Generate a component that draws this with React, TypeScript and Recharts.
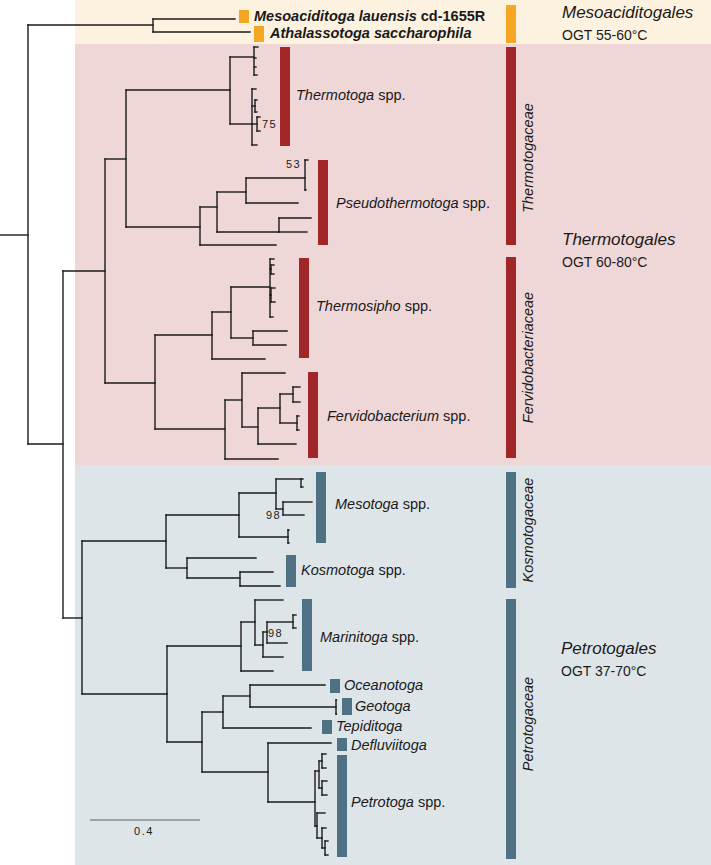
import { ScatterChart, Scatter, XAxis, YAxis, ReferenceArea, ReferenceLine } from "recharts";

// tree: [id, parent, depth (scale units), row]
const NODES: [string, string, number, number][] = [
  ["root", "", 0, 235],
  ["n0", "root", 28, 235],
  ["meso", "n0", 153, 25],
  ["", "meso", 235, 19],
  ["", "meso", 250, 32],
  ["core", "n0", 63, 444],
  ["tgl", "core", 105, 271],
  ["tA", "tgl", 126, 159],
  ["tT", "tA", 230, 90],
  ["tT1", "tT", 254, 57],
  ["", "tT1", 258, 47],
  ["", "tT1", 256, 58],
  ["", "tT1", 256, 67],
  ["", "tT1", 257, 75],
  ["tT2", "tT", 252, 124],
  ["", "tT2", 256, 89],
  ["tT3", "tT2", 255, 106],
  ["", "tT3", 257, 100],
  ["", "tT3", 257, 112],
  ["tT4", "tT2", 257, 124],
  ["", "tT4", 260, 117],
  ["", "tT4", 260, 131],
  ["", "tT2", 257, 145],
  ["pA", "tA", 200, 227],
  ["pB", "pA", 217, 207],
  ["pC", "pB", 246, 192],
  ["pD", "pC", 305, 178],
  ["", "pD", 308, 160],
  ["", "pD", 306, 190],
  ["", "pC", 298, 203],
  ["pE", "pB", 279, 232],
  ["", "pE", 311, 218],
  ["", "pE", 307, 232],
  ["", "pA", 276, 245],
  ["fA", "tgl", 155, 383],
  ["fS", "fA", 212, 335],
  ["fS1", "fS", 231, 312],
  ["fS2", "fS1", 270, 287],
  ["", "fS2", 274, 259],
  ["fS2a", "fS2", 271, 269],
  ["", "fS2a", 274, 265],
  ["", "fS2a", 274, 274],
  ["fS2b", "fS2", 271, 295],
  ["", "fS2b", 275, 288],
  ["", "fS2b", 275, 302],
  ["", "fS2", 273, 317],
  ["fS3", "fS1", 253, 338],
  ["", "fS3", 287, 331],
  ["", "fS3", 286, 345],
  ["", "fS", 265, 359],
  ["fF", "fA", 225, 429],
  ["fF1", "fF", 242, 400],
  ["", "fF1", 285, 373],
  ["fF2", "fF1", 258, 427],
  ["fF3", "fF2", 280, 408],
  ["fF4", "fF3", 293, 394],
  ["", "fF4", 300, 387],
  ["", "fF4", 300, 402],
  ["fF5", "fF3", 297, 423],
  ["", "fF5", 299, 416],
  ["", "fF5", 299, 430],
  ["", "fF2", 296, 444],
  ["", "fF", 278, 459],
  ["ptg", "core", 82, 618],
  ["kA", "ptg", 166, 541],
  ["kM", "kA", 239, 515],
  ["kM1", "kM", 276, 493],
  ["kM1a", "kM1", 301, 479],
  ["", "kM1a", 303, 479],
  ["", "kM1a", 303, 487],
  ["kM2", "kM1", 283, 509],
  ["", "kM2", 312, 502],
  ["", "kM2", 304, 515],
  ["kM3", "kM", 288, 537],
  ["", "kM3", 289, 530],
  ["", "kM3", 289, 543],
  ["kK", "kA", 187, 568],
  ["", "kK", 256, 558],
  ["kK1", "kK", 240, 578],
  ["", "kK1", 273, 572],
  ["", "kK1", 280, 586],
  ["mA", "ptg", 167, 694],
  ["mM", "mA", 241, 646],
  ["mM1", "mM", 255, 622],
  ["", "mM1", 283, 600],
  ["mM2", "mM1", 263, 645],
  ["mM3", "mM2", 267, 632],
  ["mM4", "mM3", 293, 622],
  ["", "mM4", 296, 615],
  ["", "mM4", 296, 628],
  ["", "mM3", 287, 643],
  ["", "mM2", 283, 657],
  ["", "mM", 273, 671],
  ["mB", "mA", 202, 742],
  ["mB1", "mB", 223, 712],
  ["mB2", "mB1", 250, 696],
  ["", "mB2", 325, 685],
  ["geo", "mB2", 336, 707],
  ["", "geo", 336.5, 700],
  ["", "geo", 336.5, 714],
  ["", "mB1", 311, 728],
  ["mB3", "mB", 268, 772],
  ["", "mB3", 331, 743],
  ["pP", "mB3", 315, 802],
  ["pP1", "pP", 319, 771],
  ["pP1a", "pP1", 322, 761],
  ["", "pP1a", 326, 754],
  ["", "pP1a", 326, 768],
  ["pP1b", "pP1", 322, 788],
  ["", "pP1b", 327, 781],
  ["", "pP1b", 327, 795],
  ["pP2", "pP", 317, 826],
  ["", "pP2", 325, 813],
  ["pP2a", "pP2", 322, 838],
  ["", "pP2a", 326, 828],
  ["pP2b", "pP2a", 325, 848],
  ["", "pP2b", 328, 841],
  ["", "pP2b", 328, 855],
];

// order bands: [order, top row, bottom row]
const BANDS: [string, number, number][] = [
  ["Mesoaciditogales", 0, 44],
  ["Thermotogales", 44, 465],
  ["Petrotogales", 465, 865],
];

// genus / taxon bars: [order, depth, top row, bottom row]
const TAXON_BARS: [string, number, number, number][] = [
  ["Mesoaciditogales", 239, 10, 23],
  ["Mesoaciditogales", 254, 26, 42],
  ["Thermotogales", 280, 47, 146],
  ["Thermotogales", 318, 160, 245],
  ["Thermotogales", 299, 258, 358],
  ["Thermotogales", 308, 372, 458],
  ["Petrotogales", 316, 472, 543],
  ["Petrotogales", 286, 555, 587],
  ["Petrotogales", 302, 599, 671],
  ["Petrotogales", 330, 679, 693],
  ["Petrotogales", 342, 698, 715],
  ["Petrotogales", 322, 720, 734],
  ["Petrotogales", 337, 738, 751],
  ["Petrotogales", 337, 755, 857],
];

// family bars: [order, family, top row, bottom row]
const FAMILY_BARS: [string, string, number, number][] = [
  ["Mesoaciditogales", "", 5, 43],
  ["Thermotogales", "Thermotogaceae", 47, 245],
  ["Thermotogales", "Fervidobacteriaceae", 257, 458],
  ["Petrotogales", "Kosmotogaceae", 472, 588],
  ["Petrotogales", "Petrotogaceae", 599, 859],
];

const GENUS_LABELS = [
  { name: "Thermotoga", rest: " spp.", x: 296, y: 95 },
  { name: "Pseudothermotoga", rest: " spp.", x: 336, y: 203 },
  { name: "Thermosipho", rest: " spp.", x: 316, y: 306 },
  { name: "Fervidobacterium", rest: " spp.", x: 327, y: 416 },
  { name: "Mesotoga", rest: " spp.", x: 335, y: 504 },
  { name: "Kosmotoga", rest: " spp.", x: 301, y: 570 },
  { name: "Marinitoga", rest: " spp.", x: 320, y: 637 },
  { name: "Oceanotoga", rest: "", x: 344, y: 685 },
  { name: "Geotoga", rest: "", x: 355, y: 706 },
  { name: "Tepiditoga", rest: "", x: 336, y: 726 },
  { name: "Defluviitoga", rest: "", x: 351, y: 745 },
  { name: "Petrotoga", rest: " spp.", x: 351, y: 802 },
];

const NEW_TAXA = [
  { name: "Mesoaciditoga lauensis", rest: " cd-1655R", x: 254, y: 16 },
  { name: "Athalassotoga saccharophila", rest: "", x: 270, y: 33 },
];

const ORDER_LABELS = [
  { name: "Mesoaciditogales", ogt: "OGT 55-60°C", x: 562, y: 12 },
  { name: "Thermotogales", ogt: "OGT 60-80°C", x: 562, y: 239 },
  { name: "Petrotogales", ogt: "OGT 37-70°C", x: 561, y: 648 },
];

const SUPPORT = [
  { text: "75", x: 262, y: 124 },
  { text: "53", x: 286, y: 164 },
  { text: "98", x: 266, y: 515 },
  { text: "98", x: 268, y: 633 },
];

const SCALE_BAR = { length: 0.4, units: 110, x: 90, y: 820 };

const COLORS: Record<string, { bg: string; bar: string }> = {
  Mesoaciditogales: { bg: "#FDF2E0", bar: "#F5A623" },
  Thermotogales: { bg: "#EFD6D7", bar: "#A02628" },
  Petrotogales: { bg: "#DEE5E8", bar: "#4E7283" },
};

const W = 711;
const H = 865;
const FONT = "'Liberation Sans', Arial, Helvetica, sans-serif";
const INK = "#1a1a1a";

function buildSegments() {
  const byId = new Map(NODES.filter(n => n[0]).map(n => [n[0], n]));
  const kids = new Map<string, number[]>();
  const segs: { x1: number; y1: number; x2: number; y2: number }[] = [];
  NODES.forEach(([, parent, depth, row]) => {
    if (!parent) return;
    const p = byId.get(parent)!;
    segs.push({ x1: p[2], y1: row, x2: depth, y2: row });
    if (!kids.has(parent)) kids.set(parent, []);
    kids.get(parent)!.push(row);
  });
  kids.forEach((rows, id) => {
    const lo = Math.min(...rows);
    const hi = Math.max(...rows);
    if (hi > lo) segs.push({ x1: byId.get(id)![2], y1: lo, x2: byId.get(id)![2], y2: hi });
  });
  return segs;
}

const segments = buildSegments();

const familyLabels = FAMILY_BARS.filter(f => f[1]).map(f => ({
  name: f[1],
  x: 528,
  y: f[0] === "Thermotogales" && f[1] === "Thermotogaceae" ? 158 : (f[2] + f[3]) / 2 - (f[1] === "Petrotogaceae" ? 5 : 0),
}));

const GenusText = (p: any) => (
  <text x={p.cx} y={p.cy} dominantBaseline="central" fontSize={14.5} fill={INK} fontFamily={FONT}>
    <tspan fontStyle="italic">{p.payload.name}</tspan>
    {p.payload.rest ? <tspan>{p.payload.rest}</tspan> : null}
  </text>
);

const NewTaxonText = (p: any) => (
  <text x={p.cx} y={p.cy} dominantBaseline="central" fontSize={14.5} fontWeight="bold" fill={INK} fontFamily={FONT}>
    <tspan fontStyle="italic">{p.payload.name}</tspan>
    {p.payload.rest ? <tspan>{p.payload.rest}</tspan> : null}
  </text>
);

const OrderText = (p: any) => (
  <g>
    <text x={p.cx} y={p.cy} dominantBaseline="central" fontSize={17} fontStyle="italic" fill={INK} fontFamily={FONT}>
      {p.payload.name}
    </text>
    <text x={p.cx} y={p.cy + 23} dominantBaseline="central" fontSize={14} fill={INK} fontFamily={FONT}>
      {p.payload.ogt}
    </text>
  </g>
);

const FamilyText = (p: any) => (
  <text
    x={p.cx}
    y={p.cy}
    transform={`rotate(-90 ${p.cx} ${p.cy})`}
    textAnchor="middle"
    dominantBaseline="central"
    fontSize={14.5}
    fontStyle="italic"
    fill={INK}
    fontFamily={FONT}
  >
    {p.payload.name}
  </text>
);

const SupportText = (p: any) => (
  <text x={p.cx} y={p.cy} dominantBaseline="central" fontSize={11} letterSpacing={1.5} fill={INK} fontFamily={FONT}>
    {p.payload.text}
  </text>
);

const ScaleText = (p: any) => (
  <text x={p.cx} y={p.cy} textAnchor="middle" dominantBaseline="central" fontSize={11} letterSpacing={1.5} fill={INK} fontFamily={FONT}>
    {p.payload.text}
  </text>
);

export default function App() {
  return (
    <div style={{ position: "absolute", left: 0, top: 0, width: W, height: H, background: "#fff" }}>
      <ScatterChart width={W} height={H} margin={{ top: 0, right: 0, bottom: 0, left: 0 }}>
        <XAxis type="number" dataKey="x" domain={[0, W]} hide allowDataOverflow />
        <YAxis type="number" dataKey="y" domain={[0, H]} reversed hide allowDataOverflow />

        {BANDS.map(([order, top, bottom]) => (
          <ReferenceArea
            key={order}
            x1={75}
            x2={W}
            y1={top}
            y2={bottom}
            fill={COLORS[order].bg}
            fillOpacity={1}
            stroke="none"
            ifOverflow="visible"
          />
        ))}

        {TAXON_BARS.map(([order, depth, top, bottom], i) => (
          <ReferenceArea
            key={`t${i}`}
            x1={depth}
            x2={depth + 10}
            y1={top}
            y2={bottom}
            fill={COLORS[order].bar}
            fillOpacity={1}
            stroke="none"
            ifOverflow="visible"
          />
        ))}

        {FAMILY_BARS.map(([order, fam, top, bottom], i) => (
          <ReferenceArea
            key={`f${i}${fam}`}
            x1={506}
            x2={516}
            y1={top}
            y2={bottom}
            fill={COLORS[order].bar}
            fillOpacity={1}
            stroke="none"
            ifOverflow="visible"
          />
        ))}

        {segments.map((s, i) => (
          <ReferenceLine
            key={`s${i}`}
            segment={[{ x: s.x1, y: s.y1 }, { x: s.x2, y: s.y2 }]}
            stroke={INK}
            strokeWidth={1.4}
            strokeLinecap="square"
            ifOverflow="visible"
          />
        ))}

        <ReferenceLine
          segment={[{ x: SCALE_BAR.x, y: SCALE_BAR.y }, { x: SCALE_BAR.x + SCALE_BAR.units, y: SCALE_BAR.y }]}
          stroke="#8a8a8a"
          strokeWidth={1.5}
          ifOverflow="visible"
        />

        <Scatter data={GENUS_LABELS} shape={GenusText} isAnimationActive={false} />
        <Scatter data={NEW_TAXA} shape={NewTaxonText} isAnimationActive={false} />
        <Scatter data={ORDER_LABELS} shape={OrderText} isAnimationActive={false} />
        <Scatter data={familyLabels} shape={FamilyText} isAnimationActive={false} />
        <Scatter data={SUPPORT} shape={SupportText} isAnimationActive={false} />
        <Scatter
          data={[{ text: String(SCALE_BAR.length), x: SCALE_BAR.x + SCALE_BAR.units / 2 - 1, y: SCALE_BAR.y + 11 }]}
          shape={ScaleText}
          isAnimationActive={false}
        />
      </ScatterChart>
    </div>
  );
}
